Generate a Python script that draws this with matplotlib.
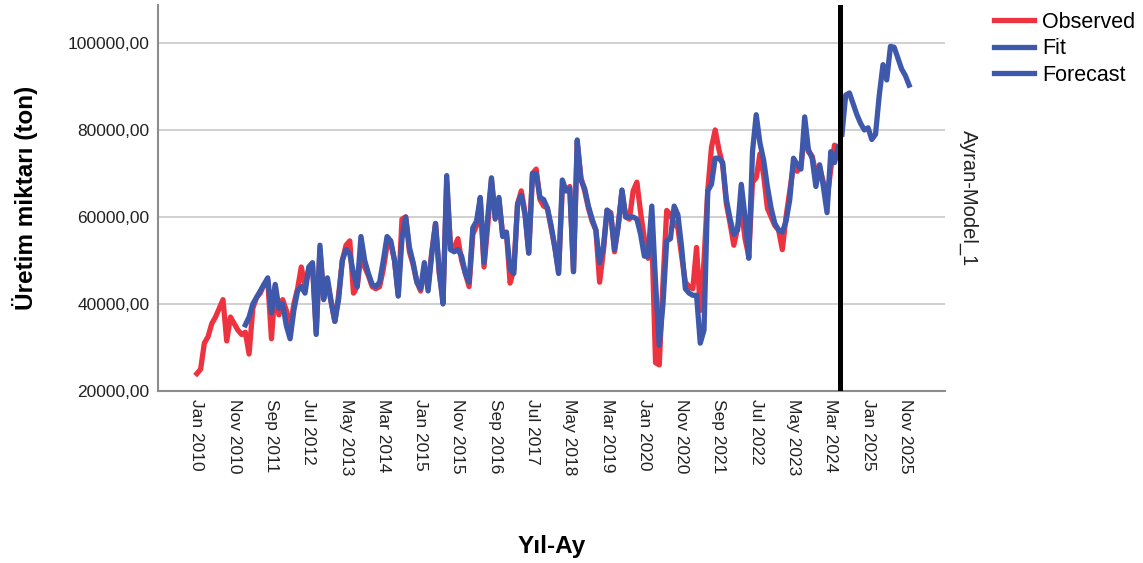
import numpy as np
import pandas as pd
import matplotlib
matplotlib.use("Agg")
import matplotlib.pyplot as plt

plt.rcParams.update({
    'font.family': ['Liberation Sans', 'DejaVu Sans'],
    'axes.edgecolor': '#8c8c8c',
})

# monthly series, Jan 2010 onwards
observed = [
    24000, 25000, 31000, 32500, 35500, 37000, 39000, 41000, 31500, 37000,
    35500, 34000, 33000, 33500, 28500, 39000, 41500, 42500, 44500, 45500,
    32000, 44000, 37500, 41000, 38500, 34500, 40000, 43500, 48500, 44000,
    48000, 49000, 33500, 52500, 42000, 45000, 40500, 36000, 42000, 50000,
    53500, 54500, 42500, 44000, 51000, 48500, 46500, 44000, 43500, 44000,
    48000, 53500, 54000, 50000, 42000, 59500, 60000, 52000, 49000, 45000,
    43000, 48000, 44000, 52000, 58500, 47000, 41000, 68000, 53500, 53000,
    55000, 50000, 47000, 44000, 56000, 58000, 64000, 48500, 58000, 68500,
    60000, 64000, 56000, 56500, 44800, 48000, 63000, 66000, 61000, 51700,
    70000, 71000, 64000, 62500, 62000, 57500, 53000, 47500, 66500, 66000,
    67000, 47500, 77000, 69000, 66000, 62000, 59000, 57000, 45000, 52000,
    61500, 61000, 52000, 58000, 66000, 60000, 59500, 66000, 68000, 61000,
    55000, 50500, 56000, 26500, 26000, 45000, 61500, 60500, 58500, 57500,
    51000, 45000, 44000, 43500, 53000, 38500, 50000, 66000, 76000, 80000,
    75500, 72000, 63000, 58500, 53500, 57500, 62000, 55000, 51000, 68000,
    69000, 74500, 69500, 62000, 60000, 58000, 57000, 52500, 60000, 66000,
    72000, 70500, 72000, 79000, 75000, 74000, 70000, 71500, 68000, 64000,
    71000, 76500, 76000,
]

fit_start = 13
fit = [
    35200, 37000, 40000, 41500, 43000, 44500, 46000,
    38000, 44500, 39000, 40000, 35000, 32000, 38500, 43000, 44000, 42500,
    48500, 49500, 33000, 53500, 41000, 46000, 40500, 36000, 41000, 50000,
    52500, 51500, 47000, 44000, 55500, 50000, 47000, 44500, 44000, 45000,
    50000, 55500, 54500, 50000, 41800, 55000, 60000, 53000, 49500, 45000,
    43500, 49500, 43000, 51500, 58500, 47500, 40000, 69500, 52500, 52000,
    52500, 51000, 47000, 45000, 57500, 59000, 64500, 49500, 60000, 69000,
    59500, 64500, 55500, 56500, 48000, 47000, 63000, 65000, 60500, 51700,
    70000, 70000, 64500, 64000, 62000, 58000, 53000, 47000, 68500, 66000,
    66500, 47400, 77700, 68500, 66500, 62500, 59500, 57000, 49500, 53000,
    61600, 60500, 52500, 58000, 66200, 60000, 60000, 60000, 59500, 56000,
    51000, 51000, 62500, 45000, 30500, 40000, 54500, 55000, 62500, 60500,
    53000, 43500, 42500, 42000, 42000, 31000, 34000, 66000, 67500, 73500,
    73500, 72500, 64000, 59500, 56000, 57000, 67500, 60000, 50500, 75000,
    83500, 77000, 73000, 67000, 62000, 58500, 57000, 56500, 59000, 64000,
    73500, 72000, 71000, 83000, 75500, 73500, 67000, 72000, 67000, 61000,
    75000, 72500, 76000,
]

forecast = [
    79000, 88000, 88500, 86000, 83500, 81500, 80000, 80500, 77800, 79000,
    88000, 95000, 91500, 99200, 99000, 96500, 94000, 92500, 90300,
]

model_name = "Ayran-Model_1"
n_total = len(observed) + len(forecast)
dates = pd.date_range("2010-01-01", periods=n_total, freq="MS")
tick_step = 10

red = "#ee3340"
blue = "#3e58ac"

fig = plt.figure(figsize=(11.43, 5.63), dpi=100)
ax = fig.add_axes([0.138, 0.3055, 0.689, 0.6855])

t_obs = np.arange(len(observed))
t_fit = np.arange(fit_start, fit_start + len(fit))
t_fc = np.arange(len(observed), n_total)

ax.plot(t_obs, observed, color=red, lw=3.8, label="Observed", zorder=3)
ax.plot(t_fit, fit, color=blue, lw=3.8, label="Fit", zorder=4)
ax.plot(t_fc, forecast, color=blue, lw=3.8, label="Forecast", zorder=4)
ax.axvline(len(observed) - 0.4, color='black', lw=3.6, zorder=5)

ax.set_xlim(-10.5, 200.7)
ax.set_ylim(20000, 108700)
ax.set_yticks([20000, 40000, 60000, 80000, 100000])
ax.set_yticklabels([f"{v:.2f}".replace(".", ",") for v in ax.get_yticks()], fontsize=12.5, color='#222222')
ax.yaxis.grid(True, color='#c8c8c8', lw=1.2)
ax.set_axisbelow(True)

ticks = np.arange(0, n_total, tick_step)
ax.set_xticks(ticks)
ax.set_xticklabels([dates[i].strftime("%b %Y") for i in ticks], rotation=-90, fontsize=12.5, color='#222222')
ax.tick_params(axis='both', length=0, pad=6)

for side in ['top', 'right']:
    ax.spines[side].set_visible(False)
for side in ['left', 'bottom']:
    ax.spines[side].set_linewidth(1.5)

ax.set_ylabel("Üretim miktarı (ton)", fontsize=17.5, fontweight='bold')
ax.yaxis.set_label_coords(-0.152, 0.5)
ax.set_xlabel("Yıl-Ay", fontsize=17.5, fontweight='bold')
ax.xaxis.set_label_coords(0.5, -0.372)

ax.text(1.029, 0.5, model_name, rotation=-90, transform=ax.transAxes,
        ha='center', va='center', fontsize=14.5, color='#222222')

ax.legend(loc='upper left', bbox_to_anchor=(1.062, 0.982), frameon=False,
          fontsize=15.5, handlelength=1.86, handletextpad=0.37, labelspacing=0.25,
          borderpad=0, borderaxespad=0)

fig.savefig("out.png", dpi=100)
